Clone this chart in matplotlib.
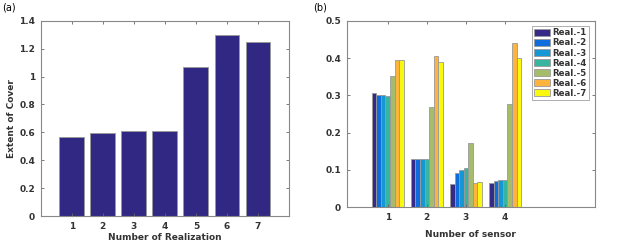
import matplotlib.pyplot as plt
import numpy as np

# panel (a)
realizations = [1, 2, 3, 4, 5, 6, 7]
cover = [0.565, 0.595, 0.607, 0.607, 1.07, 1.30, 1.25]

# panel (b): rows = sensor, cols = realization
sensors = [1, 2, 3, 4]
sensor_vals = [
    [0.305, 0.302, 0.301, 0.297, 0.352, 0.395, 0.394],
    [0.129, 0.130, 0.130, 0.130, 0.268, 0.406, 0.390],
    [0.063, 0.091, 0.101, 0.105, 0.171, 0.064, 0.069],
    [0.066, 0.070, 0.072, 0.073, 0.278, 0.439, 0.399],
]
legend_labels = ['Real.-1', 'Real.-2', 'Real.-3', 'Real.-4', 'Real.-5', 'Real.-6', 'Real.-7']
colors = ['#352a87', '#0f6cdc', '#1497d4', '#38b59f', '#a5bd6a', '#fcb43c', '#f9f90f']

txt = '#333333'
plt.rcParams['font.family'] = 'DejaVu Sans'
plt.rcParams['font.size'] = 6.5
plt.rcParams['font.weight'] = 'bold'
plt.rcParams['axes.labelweight'] = 'bold'

fig = plt.figure(figsize=(6.23, 2.43), dpi=100)
W, H = 623, 243

def style(ax):
    for s in ax.spines.values():
        s.set_color('#888888')
        s.set_linewidth(0.8)
    ax.tick_params(direction='in', length=2.5, width=0.6, color='#666666',
                   top=True, right=True, labelcolor=txt, pad=4)
    for lab in ax.get_xticklabels() + ax.get_yticklabels():
        lab.set_fontweight('bold')

ax1 = fig.add_axes([40.7 / W, 1 - 216 / H, (289 - 40.7) / W, (216 - 20.7) / H])
ax1.bar(realizations, cover, width=0.8, color='#312883', edgecolor='#999999', linewidth=0.6)
ax1.set_xlim(0, 8)
ax1.set_ylim(0, 1.4)
ax1.set_xticks(realizations)
ax1.set_yticks([0, 0.2, 0.4, 0.6, 0.8, 1, 1.2, 1.4])
ax1.set_yticklabels(['0', '0.2', '0.4', '0.6', '0.8', '1', '1.2', '1.4'])
ax1.set_xlabel('Number of Realization', color=txt, labelpad=1.5)
ax1.set_ylabel('Extent of Cover', color=txt, labelpad=2)
style(ax1)

ax2 = fig.add_axes([346.7 / W, 1 - 207.3 / H, (595 - 346.7) / W, (207.3 - 20.7) / H])
vals = np.array(sensor_vals)
n = vals.shape[1]
bw = 0.117
for j in range(n):
    x = np.array(sensors) + (j - (n - 1) / 2) * bw
    ax2.bar(x, vals[:, j], width=bw, color=colors[j], edgecolor='#999999',
            linewidth=0.6, label=legend_labels[j])
ax2.set_xlim(-0.05, 6.3)
ax2.set_ylim(0, 0.5)
ax2.set_xticks(sensors)
ax2.set_yticks([0, 0.1, 0.2, 0.3, 0.4, 0.5])
ax2.set_yticklabels(['0', '0.1', '0.2', '0.3', '0.4', '0.5'])
ax2.set_xlabel('Number of sensor', color=txt, labelpad=6)
style(ax2)
leg = ax2.legend(loc='upper right', bbox_to_anchor=(0.975, 0.97), fontsize=6.2,
                 frameon=True, fancybox=False, handlelength=1.8, handleheight=0.9,
                 handletextpad=0.3, labelspacing=0.12, borderpad=0.25, borderaxespad=0)
leg.get_frame().set_edgecolor('#888888')
leg.get_frame().set_linewidth(0.6)
for t in leg.get_texts():
    t.set_color(txt)
    t.set_fontweight('bold')

fig.text(2 / W, 1 - 7 / H, '(a)', fontsize=7, fontweight='normal', color='black', va='center')
fig.text(313 / W, 1 - 7 / H, '(b)', fontsize=7, fontweight='normal', color='black', va='center')

fig.savefig('out.png', dpi=100)
